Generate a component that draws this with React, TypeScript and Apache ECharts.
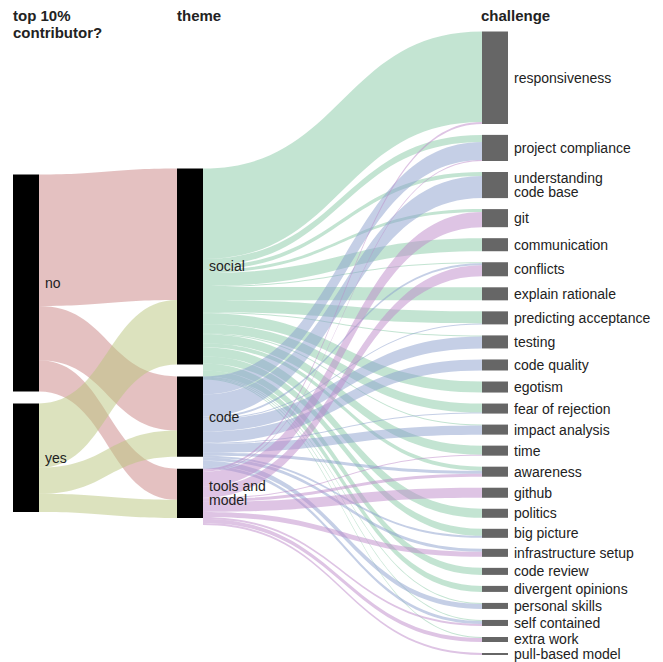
import React, { useEffect, useRef } from 'react';
import * as echarts from 'echarts';

// ---------- data ----------
const contributorGroups = ['no', 'yes'];
const themes = ['social', 'code', 'tools and model'];
const challenges = [
  'responsiveness', 'project compliance', 'understanding code base', 'git', 'communication',
  'conflicts', 'explain rationale', 'predicting acceptance', 'testing', 'code quality',
  'egotism', 'fear of rejection', 'impact analysis', 'time', 'awareness', 'github',
  'politics', 'big picture', 'infrastructure setup', 'code review', 'divergent opinions',
  'personal skills', 'self contained', 'extra work', 'pull-based model',
];

// contributor group -> theme  [social, code, tools and model]
const noToTheme = [131, 54, 31];
const yesToTheme = [64, 26, 18];

// theme -> challenge (same order as `challenges`)
const socialToChallenge = [90, 7, 4, 3, 13, 1, 13, 12, 1, 0, 11, 9, 1, 9, 4, 0, 9, 7, 0, 7, 6, 1, 1, 1, 0];
const codeToChallenge = [0, 18, 22, 0, 0, 2, 0, 1, 12, 11, 0, 1, 9, 0, 3, 0, 0, 2, 3, 0, 0, 5, 3, 0, 0];
const toolsToChallenge = [2, 1, 0, 15, 0, 11, 0, 0, 0, 0, 0, 0, 0, 1, 3, 10, 0, 0, 5, 0, 0, 0, 2, 4, 2];

const columnTitles = ['top 10%\ncontributor?', 'theme', 'challenge'];
const labelText: Record<string, string> = {
  'understanding code base': 'understanding\ncode base',
  'tools and model': 'tools and\nmodel',
};

// ---------- styles ----------
const GROUP_COLORS = ['#c98383', '#b9c57d'];
const THEME_COLORS = ['#87c9a5', '#8b9fcd', '#bd89c9'];
const FONT = 'Arial, "Liberation Sans", Helvetica, sans-serif';

export default function App() {
  const ref = useRef<HTMLDivElement>(null);

  useEffect(() => {
    if (!ref.current) return;
    const chart = echarts.init(ref.current, null, { renderer: 'svg' });

    const W = 663;
    const H = 662;
    const nodeWidth = 26;
    const colLeft = [13, 177, 482];
    const boxTop = 31.5;
    const boxBottom = 7;
    const boxH = H - boxTop - boxBottom;
    const gapRight = 11;
    const gapLeft = 12;

    const sum = (a: number[]) => a.reduce((s, v) => s + v, 0);
    const themeOut = [socialToChallenge, codeToChallenge, toolsToChallenge];
    const groupOut = [noToTheme, yesToTheme];
    const groupVals = groupOut.map(sum);
    const themeIn = themes.map((_, t) => noToTheme[t] + yesToTheme[t]);
    const challengeVals = challenges.map((_, c) => themeOut.reduce((s, arr) => s + arr[c], 0));

    // px per unit, fixed by the challenge column filling the full height
    const ky = (boxH - (challenges.length - 1) * gapRight) / sum(challengeVals);

    // left/theme block, centred vertically
    const midSpan = sum(themeIn) * ky + (themes.length - 1) * gapLeft;
    const s1Top = boxTop + (boxH - midSpan) / 2;
    const leftSpan = sum(groupVals) * ky + (groupVals.length - 1) * gapLeft;
    let yy = (midSpan - leftSpan) / 2;
    const groupLocalY = groupVals.map((v) => {
      const r = yy / midSpan;
      yy += v * ky + gapLeft;
      return r;
    });
    // theme tops used to anchor the theme -> challenge flows
    let ty = s1Top - boxTop;
    const themeLocalY = themeIn.map((v) => {
      const r = ty / boxH;
      ty += v * ky + gapLeft;
      return r;
    });

    const labelBase = {
      show: true,
      position: 'right',
      distance: 6,
      fontFamily: FONT,
      fontSize: 14,
      lineHeight: 14,
      color: '#222',
      formatter: (p: any) => labelText[p.name] ?? p.name,
    };

    // series A: theme -> challenge (theme anchors invisible)
    const nodesA: any[] = [];
    themes.forEach((t, i) =>
      nodesA.push({
        name: t,
        localY: themeLocalY[i],
        itemStyle: { color: 'rgba(0,0,0,0)' },
        label: { show: false },
      })
    );
    challenges.forEach((c) => nodesA.push({ name: c, itemStyle: { color: '#666' } }));
    const linksA: any[] = [];
    themeOut.forEach((arr, t) =>
      arr.forEach((v, c) => {
        if (v > 0)
          linksA.push({
            source: themes[t],
            target: challenges[c],
            value: v,
            lineStyle: { color: THEME_COLORS[t] },
          });
      })
    );

    // series B: contributor -> theme
    const nodesB: any[] = [];
    contributorGroups.forEach((g, i) =>
      nodesB.push({ name: g, localY: groupLocalY[i], itemStyle: { color: '#000' } })
    );
    themes.forEach((t) => nodesB.push({ name: t, itemStyle: { color: '#000' } }));
    const linksB: any[] = [];
    groupOut.forEach((arr, g) =>
      arr.forEach((v, t) => {
        if (v > 0)
          linksB.push({
            source: contributorGroups[g],
            target: themes[t],
            value: v,
            lineStyle: { color: GROUP_COLORS[g] },
          });
      })
    );

    const colTitleX = [colLeft[0], colLeft[1], colLeft[2] - 1];

    chart.setOption({
      animation: false,
      backgroundColor: '#fff',
      graphic: columnTitles.map((t, i) => ({
        type: 'text',
        left: colTitleX[i],
        top: 7.3,
        style: {
          text: t,
          fontFamily: FONT,
          fontSize: 15,
          fontWeight: 'bold',
          lineHeight: 17,
          fill: '#222',
        },
      })),
      series: [
        {
          type: 'sankey',
          z: 2,
          left: colLeft[1],
          top: boxTop,
          right: W - (colLeft[2] + nodeWidth),
          bottom: boxBottom,
          nodeWidth,
          nodeGap: gapRight,
          layoutIterations: 0,
          draggable: false,
          emphasis: { disabled: true },
          data: nodesA,
          links: linksA,
          itemStyle: { borderWidth: 0 },
          lineStyle: { opacity: 0.5, curveness: 0.5 },
          label: labelBase,
        },
        {
          type: 'sankey',
          z: 3,
          left: colLeft[0],
          top: s1Top,
          right: W - (colLeft[1] + nodeWidth),
          bottom: H - (s1Top + midSpan),
          nodeWidth,
          nodeGap: gapLeft,
          layoutIterations: 0,
          draggable: false,
          emphasis: { disabled: true },
          data: nodesB,
          links: linksB,
          itemStyle: { borderWidth: 0 },
          lineStyle: { opacity: 0.5, curveness: 0.5 },
          label: labelBase,
        },
      ],
    });

    return () => chart.dispose();
  }, []);

  return (
    <div
      ref={ref}
      style={{ position: 'fixed', left: 0, top: 0, width: 663, height: 662, background: '#fff' }}
    />
  );
}
